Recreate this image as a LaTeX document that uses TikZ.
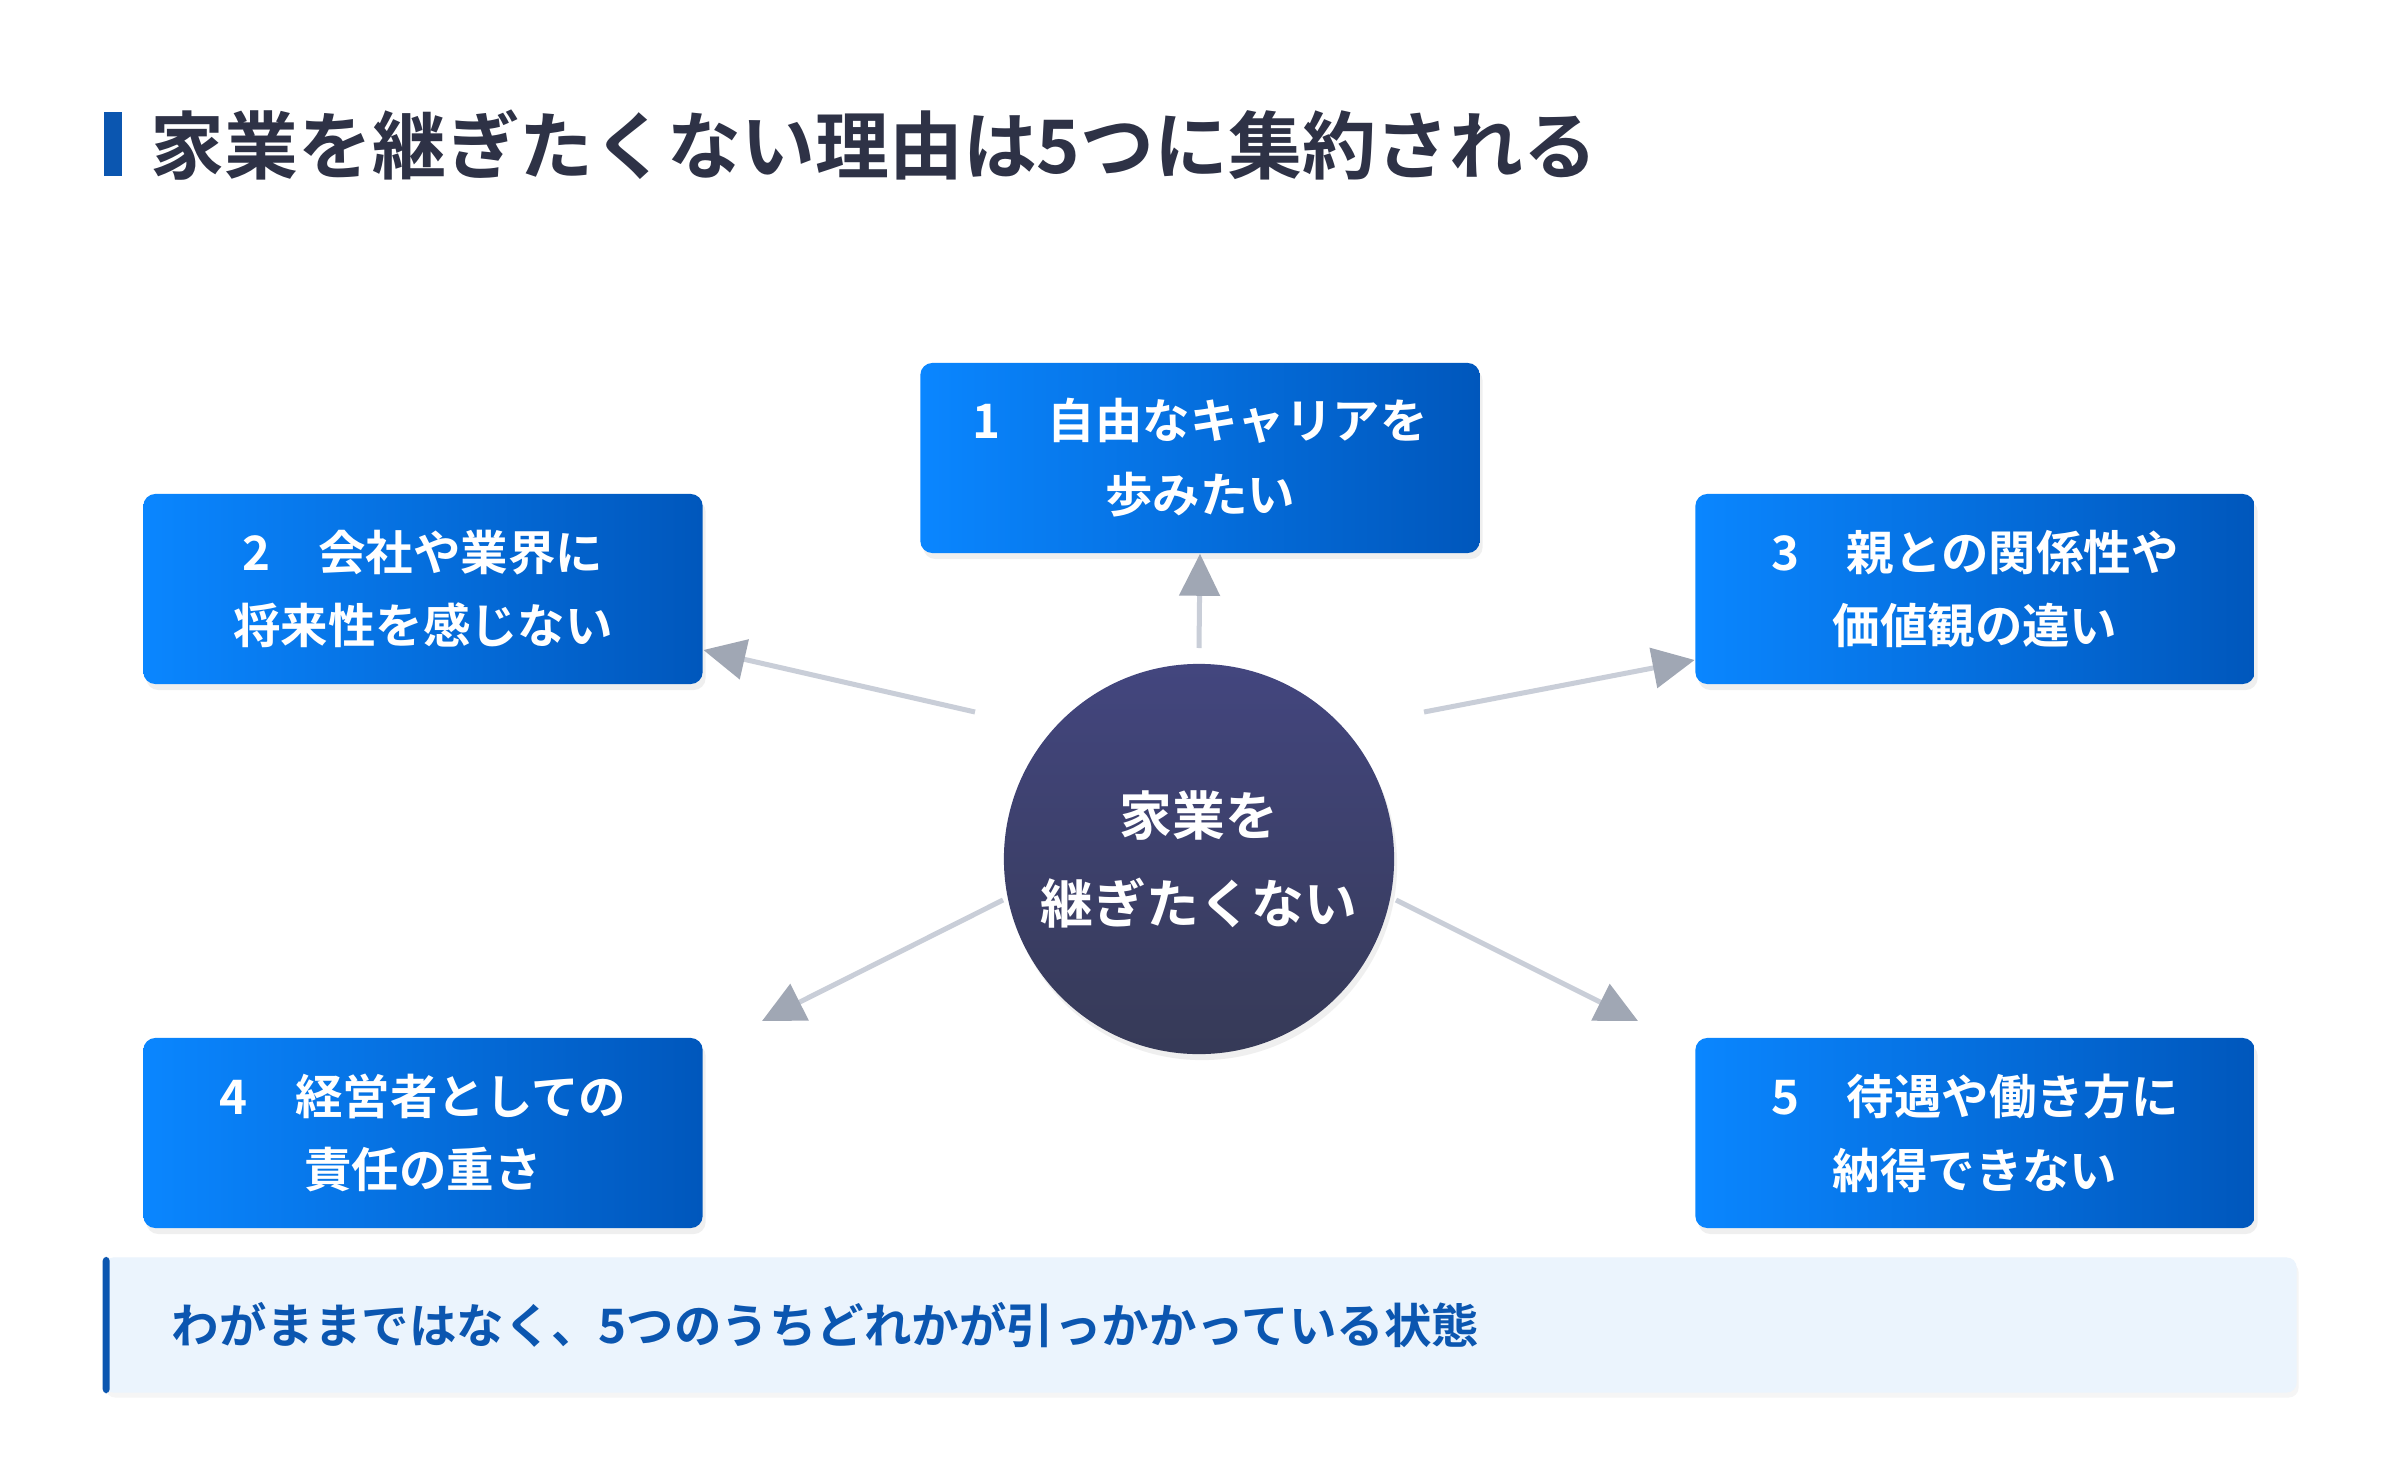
\documentclass[tikz,border=0pt]{standalone}
\usepackage{fontspec}
\setmainfont{Noto Sans CJK JP}[BoldFont={Noto Sans CJK JP Bold}]
\usetikzlibrary{arrows.meta,shadows}
\definecolor{bA}{HTML}{0A86FF}
\definecolor{bB}{HTML}{0057BC}
\definecolor{navy}{HTML}{363A57}
\definecolor{ttl}{HTML}{2E3246}
\definecolor{lnk}{HTML}{C9CED8}
\definecolor{tip}{HTML}{A0A7B4}
\definecolor{pale}{HTML}{EBF4FD}
\definecolor{dblue}{HTML}{0B56B0}
\begin{document}
\begin{tikzpicture}[x=0.01cm,y=-0.01cm,
  box/.style={rounded corners=0.12cm,left color=bA,right color=bB,draw=none,
    drop shadow={opacity=0.12,shadow xshift=0.03cm,shadow yshift=-0.06cm},
    minimum width=5.59cm,minimum height=1.9cm,text=white,font=\bfseries\fontsize{13.5}{21}\selectfont,align=center},
  conn/.style={draw=lnk,line width=0.05cm,-{Triangle[width=0.4cm,length=0.42cm,color=tip]}}]
\useasboundingbox (0,0) rectangle (2400,1482);
\fill[white] (0,0) rectangle (2400,1482);
\fill[dblue] (104,112) rectangle (122,176);
\node[anchor=west,text=ttl,font=\bfseries\fontsize{21}{26}\selectfont,inner sep=0] (title) at (150,145) {家業を継ぎたくない理由は5つに集約される};
\node[box] (b1) at (1200,458) {1\quad 自由なキャリアを\\歩みたい};
\node[box] (b2) at (423,589) {2\quad 会社や業界に\\将来性を感じない};
\node[box] (b3) at (1975,589) {3\quad 親との関係性や\\価値観の違い};
\node[box] (b4) at (423,1133) {4\quad 経営者としての\\責任の重さ};
\node[box] (b5) at (1975,1133) {5\quad 待遇や働き方に\\納得できない};
\node[circle,minimum size=3.9cm,top color=navy!85!blue!90!white,bottom color=navy,draw=none,
  drop shadow={opacity=0.12,shadow xshift=0.03cm,shadow yshift=-0.06cm},
  text=white,font=\bfseries\fontsize{15}{25}\selectfont,align=center] (c) at (1199,859) {家業を\\継ぎたくない};
\coordinate (s1) at (1199,648);
\coordinate (s2) at (975,712);
\coordinate (s3) at (1424,712);
\coordinate (s4) at (1003,900);
\coordinate (s5) at (1396,900);
\coordinate (e4) at (762,1021);
\coordinate (e5) at (1638,1021);
\draw[conn] (s1) -- (b1.south);
\draw[conn] (s2) -- (b2.east |- 0,650);
\draw[conn] (s3) -- (b3.west |- 0,660);
\draw[conn] (s4) -- (e4);
\draw[conn] (s5) -- (e5);
\node[rounded corners=0.1cm,fill=pale,draw=none,minimum width=21.92cm,minimum height=1.35cm,
  drop shadow={opacity=0.08,shadow xshift=0.02cm,shadow yshift=-0.05cm}] (ban) at (1200,1325) {};
\fill[dblue,rounded corners=0.04cm] (ban.north west) rectangle ([xshift=0.07cm]ban.south west);
\node[anchor=west,text=dblue,font=\bfseries\fontsize{13.5}{18}\selectfont,inner sep=0] (bt) at (171,1325) {わがままではなく、5つのうちどれかが引っかかっている状態};
\end{tikzpicture}
\end{document}
